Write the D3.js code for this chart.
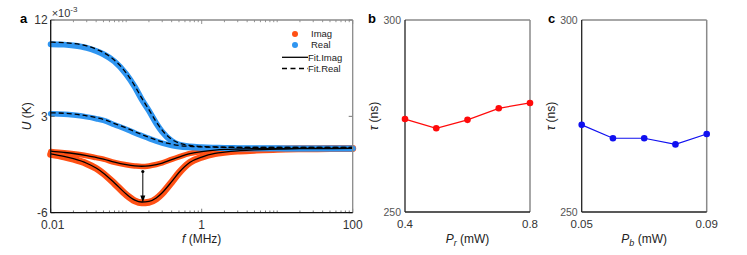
<!DOCTYPE html>
<html><head><meta charset="utf-8">
<script src="https://cdn.jsdelivr.net/npm/d3@7/dist/d3.min.js"></script>
<style>
body{margin:0;background:#fff;}
svg{font-family:"Liberation Sans",Arial,sans-serif;}
</style></head>
<body><svg id="c" width="747" height="255"></svg>
<script>
// ---------- data ----------
const freq = [0.01,0.015,0.02,0.03,0.04,0.05,0.07,0.1,0.13,0.16,0.2,0.25,0.3,0.4,0.5,0.7,1,1.5,2,3,5,10,20,50,100];
const realHigh = [9.74,9.70,9.62,9.40,9.10,8.80,8.13,6.95,5.75,4.60,3.52,2.35,1.55,0.70,0.35,0.18,0.11,0.07,0.05,0.03,0.02,0.01,0,0,0];
const realLow  = [3.24,3.20,3.12,2.95,2.78,2.62,2.22,1.80,1.45,1.20,0.94,0.68,0.50,0.28,0.16,0.08,0.04,0.02,0.01,0,0,0,0,0,0];
const imagLow  = [-0.28,-0.40,-0.50,-0.68,-0.86,-1.00,-1.30,-1.52,-1.63,-1.68,-1.63,-1.50,-1.35,-1.02,-0.78,-0.46,-0.27,-0.14,-0.08,-0.04,-0.02,-0.01,0,0,0];
const imagHigh = [-0.55,-0.78,-1.00,-1.42,-1.86,-2.35,-3.28,-4.33,-4.90,-5.08,-5.02,-4.70,-4.20,-3.15,-2.28,-1.30,-0.82,-0.48,-0.36,-0.24,-0.16,-0.07,-0.03,-0.01,0];
const fitRealHigh = [9.93,9.88,9.80,9.58,9.28,8.96,8.25,7.05,5.85,4.72,3.62,2.48,1.70,0.85,0.50,0.28,0.18,0.14,0.12,0.11,0.10,0.10,0.10,0.10,0.10];
const fitRealLow  = [3.33,3.29,3.22,3.05,2.88,2.72,2.33,1.92,1.57,1.31,1.05,0.80,0.62,0.40,0.28,0.19,0.14,0.12,0.11,0.10,0.10,0.10,0.10,0.10,0.10];
const fitImagLow  = [-0.25,-0.37,-0.47,-0.66,-0.84,-0.99,-1.28,-1.51,-1.62,-1.66,-1.62,-1.50,-1.36,-1.04,-0.80,-0.49,-0.29,-0.15,-0.09,-0.05,-0.02,-0.01,0,0,0];
const fitImagHigh = [-0.50,-0.74,-0.96,-1.38,-1.83,-2.31,-3.22,-4.25,-4.82,-5.00,-4.94,-4.62,-4.13,-3.10,-2.24,-1.28,-0.80,-0.46,-0.34,-0.22,-0.14,-0.06,-0.02,-0.01,0];
const arrowF = 0.166, arrowFrom = -2.15, arrowTo = -5.04;
const uTicks = [-6,3,12];
const fTicks = [0.01,1,100];

const pr = [0.4,0.5,0.6,0.7,0.8];
const tauR = [274.2,271.8,274.0,277.0,278.4];
const pb = [0.05,0.06,0.07,0.08,0.09];
const tauB = [272.7,269.2,269.2,267.6,270.3];
const tauTicks = [250,300];
const prTicks = [0.4,0.8];
const pbTicks = [0.05,0.09];

// ---------- drawing ----------
const svg = d3.select("#c");
const BLUE="#2f95f0", ORANGE="#ff5014", GRAY="#8a8a8a";

// Panel a
const A = {l:50.7, r:352.7, t:20, b:212.7};
const x = d3.scaleLog().domain([0.01,100]).range([A.l,A.r]);
const y = d3.scaleLinear().domain([-6,12]).range([A.b,A.t]);
const ga = svg.append("g");

function series(vals){ return freq.map((f,i)=>({f, v:vals[i]})); }
const line = d3.line().x(d=>x(d.f)).y(d=>y(d.v)).curve(d3.curveMonotoneX);

// data curves
[[imagLow,5.5],[imagHigh,7]].forEach(([v,w])=>{
  ga.append("path").attr("d",line(series(v))).attr("fill","none").attr("stroke",ORANGE)
    .attr("stroke-width",w).attr("stroke-linecap","round").attr("stroke-linejoin","round");
});
[[realLow,5.5],[realHigh,6]].forEach(([v,w])=>{
  ga.append("path").attr("d",line(series(v))).attr("fill","none").attr("stroke",BLUE)
    .attr("stroke-width",w).attr("stroke-linecap","round").attr("stroke-linejoin","round");
});
// fits
[fitImagLow,fitImagHigh].forEach(v=>{
  ga.append("path").attr("d",line(series(v))).attr("fill","none").attr("stroke","#000").attr("stroke-width",1.3);
});
[fitRealLow,fitRealHigh].forEach(v=>{
  ga.append("path").attr("d",line(series(v))).attr("fill","none").attr("stroke","#000").attr("stroke-width",1.3)
    .attr("stroke-dasharray","5,3");
});

// arrow
const ax = x(arrowF);
ga.append("circle").attr("cx",ax).attr("cy",y(arrowFrom)).attr("r",1.6).attr("fill","#000");
ga.append("line").attr("x1",ax).attr("x2",ax).attr("y1",y(arrowFrom)).attr("y2",y(arrowTo)-3)
  .attr("stroke","#000").attr("stroke-width",1);
ga.append("path").attr("d",`M${ax-2.5},${y(arrowTo)-7} L${ax+2.5},${y(arrowTo)-7} L${ax},${y(arrowTo)} Z`).attr("fill","#000");

// frame & ticks
const minor = [];
for(let d=-2; d<2; d++) for(let m=1;m<10;m++) minor.push(m*Math.pow(10,d));
minor.push(100);
const gt = ga.append("g");
minor.forEach(f=>{
  const major = fTicks.includes(+f.toPrecision(3));
  const len = major?4:2.2;
  gt.append("line").attr("x1",x(f)).attr("x2",x(f)).attr("y1",A.b).attr("y2",A.b-len).attr("stroke","#555").attr("stroke-width",0.8);
  gt.append("line").attr("x1",x(f)).attr("x2",x(f)).attr("y1",A.t).attr("y2",A.t+len).attr("stroke","#777").attr("stroke-width",0.8);
});
uTicks.forEach(u=>{
  gt.append("line").attr("x1",A.l).attr("x2",A.l+4).attr("y1",y(u)).attr("y2",y(u)).attr("stroke","#555").attr("stroke-width",0.8);
  gt.append("line").attr("x1",A.r).attr("x2",A.r-4).attr("y1",y(u)).attr("y2",y(u)).attr("stroke","#555").attr("stroke-width",0.8);
});
ga.append("line").attr("x1",A.l).attr("x2",A.r).attr("y1",A.t).attr("y2",A.t).attr("stroke",GRAY).attr("stroke-width",1.3);
ga.append("line").attr("x1",A.r).attr("x2",A.r).attr("y1",A.t).attr("y2",A.b).attr("stroke",GRAY).attr("stroke-width",1.3);
ga.append("line").attr("x1",A.l).attr("x2",A.l).attr("y1",A.t).attr("y2",A.b).attr("stroke","#111").attr("stroke-width",1.3);
ga.append("line").attr("x1",A.l).attr("x2",A.r).attr("y1",A.b).attr("y2",A.b).attr("stroke","#111").attr("stroke-width",1.3);

// tick labels
uTicks.forEach(u=>{
  ga.append("text").attr("x",A.l-3).attr("y",y(u)).attr("dy","0.35em").attr("text-anchor","end")
    .attr("font-size",12).attr("fill","#333").text(u);
});
fTicks.forEach(f=>{
  ga.append("text").attr("x",x(f)+ (f===0.01?2:0)).attr("y",A.b+16).attr("text-anchor","middle")
    .attr("font-size",12).attr("fill","#333").text(f);
});
const mult = ga.append("text").attr("x",A.l+1).attr("y",17).attr("font-size",11).attr("fill","#333");
mult.append("tspan").text("×10");
mult.append("tspan").attr("dy",-5).attr("font-size",8).text("-3");
ga.append("text").attr("x",(A.l+A.r)/2).attr("y",243).attr("text-anchor","middle").attr("font-size",12).attr("fill","#222")
  .html('<tspan font-style="italic">f</tspan> (MHz)');
ga.append("text").attr("transform",`translate(31,${(A.t+A.b)/2}) rotate(-90)`).attr("text-anchor","middle").attr("font-size",12).attr("fill","#222")
  .html('<tspan font-style="italic">U</tspan> (K)');
ga.append("text").attr("x",20).attr("y",23).attr("font-size",13).attr("font-weight","bold").text("a");

// legend
const lg = ga.append("g").attr("font-size",9.5).attr("fill","#222");
lg.append("circle").attr("cx",295).attr("cy",34).attr("r",3).attr("fill",ORANGE);
lg.append("text").attr("x",311).attr("y",34).attr("dy","0.35em").text("Imag");
lg.append("circle").attr("cx",295).attr("cy",45).attr("r",3).attr("fill",BLUE);
lg.append("text").attr("x",311).attr("y",45).attr("dy","0.35em").text("Real");
lg.append("line").attr("x1",282).attr("x2",308).attr("y1",57.3).attr("y2",57.3).attr("stroke","#000").attr("stroke-width",1.3);
lg.append("text").attr("x",308).attr("y",57.3).attr("dy","0.35em").text("Fit.Imag");
lg.append("line").attr("x1",282).attr("x2",308).attr("y1",68.5).attr("y2",68.5).attr("stroke","#000").attr("stroke-width",1.3).attr("stroke-dasharray","5,3.5");
lg.append("text").attr("x",308).attr("y",68.5).attr("dy","0.35em").text("Fit.Real");

// Panels b & c
function small(P, xs, ys, xDom, xt, color, label, sub, letterX){
  const g = svg.append("g");
  const sx = d3.scaleLinear().domain(xDom).range([P.l,P.r]);
  const sy = d3.scaleLinear().domain([250,300]).range([P.b,P.t]);
  g.append("line").attr("x1",P.l).attr("x2",P.r).attr("y1",P.t).attr("y2",P.t).attr("stroke",GRAY).attr("stroke-width",1.5);
  g.append("line").attr("x1",P.r).attr("x2",P.r).attr("y1",P.t).attr("y2",P.b).attr("stroke",GRAY).attr("stroke-width",1.5);
  g.append("line").attr("x1",P.l).attr("x2",P.l).attr("y1",P.t).attr("y2",P.b).attr("stroke","#222").attr("stroke-width",1.3);
  g.append("line").attr("x1",P.l).attr("x2",P.r).attr("y1",P.b).attr("y2",P.b).attr("stroke","#222").attr("stroke-width",1.3);
  const pts = xs.map((v,i)=>({x:v,y:ys[i]}));
  g.append("path").attr("d",d3.line().x(d=>sx(d.x)).y(d=>sy(d.y))(pts)).attr("fill","none").attr("stroke",color).attr("stroke-width",1.2);
  g.selectAll("circle.p").data(pts).enter().append("circle").attr("cx",d=>sx(d.x)).attr("cy",d=>sy(d.y)).attr("r",3.3).attr("fill",color);
  tauTicks.forEach(t=>{
    g.append("text").attr("x",P.l-4).attr("y",sy(t)).attr("dy","0.35em").attr("text-anchor","end").attr("font-size",10.5).attr("fill","#555").text(t);
  });
  xt.forEach(t=>{
    g.append("text").attr("x",sx(t)).attr("y",P.b+16).attr("text-anchor","middle").attr("font-size",11.5).attr("fill","#333").text(t);
  });
  g.append("text").attr("x",(P.l+P.r)/2).attr("y",243).attr("text-anchor","middle").attr("font-size",12).attr("fill","#222")
    .html(`<tspan font-style="italic">P</tspan><tspan font-style="italic" font-size="9" dy="3">${sub}</tspan><tspan dy="-3"> (mW)</tspan>`);
  g.append("text").attr("transform",`translate(${P.l-27},${(P.t+P.b)/2}) rotate(-90)`).attr("text-anchor","middle").attr("font-size",12).attr("fill","#222")
    .html('<tspan font-style="italic">τ</tspan> (ns)');
  g.append("text").attr("x",letterX).attr("y",23).attr("font-size",13).attr("font-weight","bold").text(label);
}
small({l:405,r:530,t:20,b:212}, pr, tauR, [0.4,0.8], prTicks, "#ff0a0a", "b", "r", 368);
small({l:581.7,r:706.7,t:20,b:212}, pb, tauB, [0.05,0.09], pbTicks, "#1010f0", "c", "b", 548);
</script></body></html>
